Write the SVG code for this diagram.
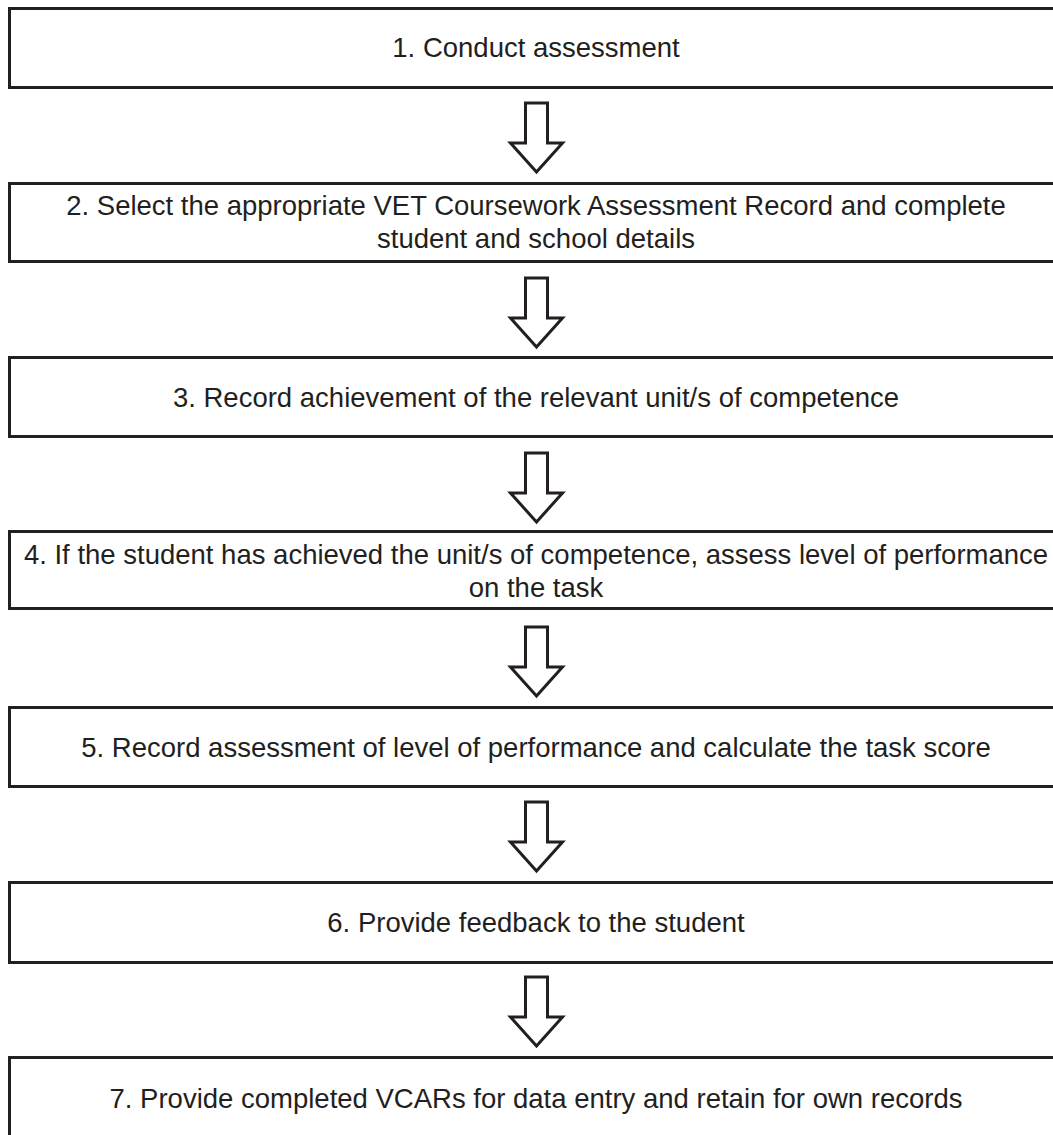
<svg xmlns="http://www.w3.org/2000/svg" width="1053" height="1135" viewBox="0 0 1053 1135">
<style>
.box{fill:#fff;stroke:#231f20;stroke-width:3}
.arr{fill:#fff;stroke:#231f20;stroke-width:3;stroke-linejoin:miter}
.t{font-family:"Liberation Sans",Arial,sans-serif;font-size:27.5px;fill:#231f20;text-anchor:middle}
</style>
<rect width="1053" height="1135" fill="#fff"/>
<defs>
<path id="ar" class="arr" d="M-11,0 H11 V40 H26 L0,69 L-26,40 H-11 Z"/>
</defs>
<g id="connectors">
<use href="#ar" x="536.5" y="103"/>
<use href="#ar" x="536.5" y="278"/>
<use href="#ar" x="536.5" y="453"/>
<use href="#ar" x="536.5" y="627"/>
<use href="#ar" x="536.5" y="802"/>
<use href="#ar" x="536.5" y="977"/>
</g>
<g id="n1"><rect class="box" x="9.5" y="8.5" width="1060" height="79"/><text class="t" x="536" y="57">1. Conduct assessment</text></g>
<g id="n2"><rect class="box" x="9.5" y="183.5" width="1060" height="78"/><text class="t" x="536" y="215">2. Select the appropriate VET Coursework Assessment Record and complete</text><text class="t" x="536" y="248">student and school details</text></g>
<g id="n3"><rect class="box" x="9.5" y="357.5" width="1060" height="79"/><text class="t" x="536" y="407">3. Record achievement of the relevant unit/s of competence</text></g>
<g id="n4"><rect class="box" x="9.5" y="531.5" width="1060" height="77"/><text class="t" x="536" y="564">4. If the student has achieved the unit/s of competence, assess level of performance</text><text class="t" x="536" y="597">on the task</text></g>
<g id="n5"><rect class="box" x="9.5" y="707.5" width="1060" height="79"/><text class="t" x="536" y="757">5. Record assessment of level of performance and calculate the task score</text></g>
<g id="n6"><rect class="box" x="9.5" y="882.5" width="1060" height="80"/><text class="t" x="536" y="932">6. Provide feedback to the student</text></g>
<g id="n7"><rect class="box" x="9.5" y="1057.5" width="1060" height="100"/><text class="t" x="536" y="1108">7. Provide completed VCARs for data entry and retain for own records</text></g>
</svg>
